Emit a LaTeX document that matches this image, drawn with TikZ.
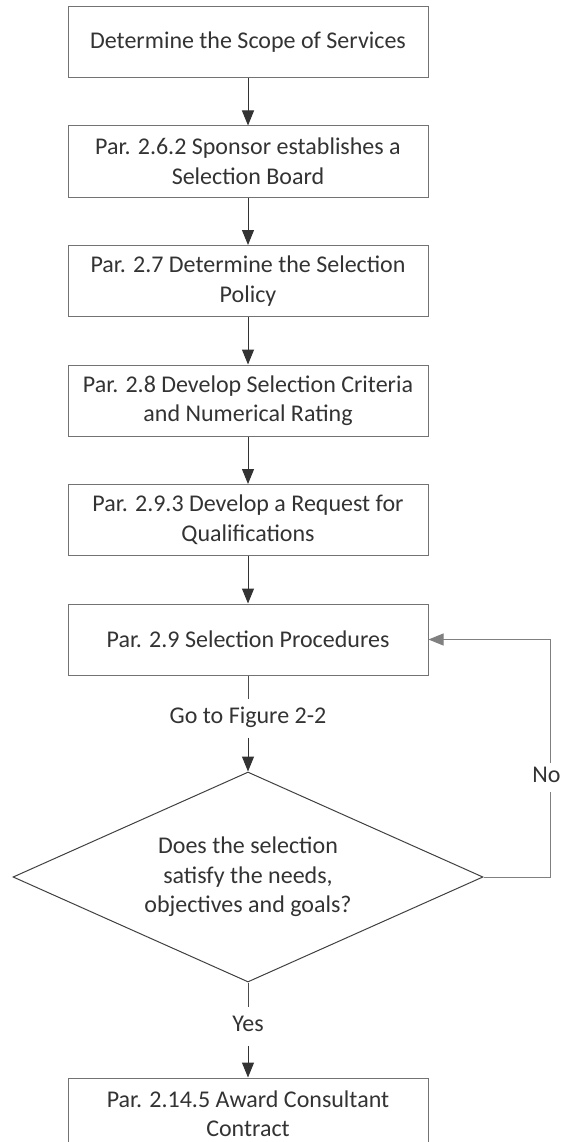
\documentclass[tikz,border=0pt]{standalone}
\usepackage{fontspec}
\setmainfont{Carlito}
\usetikzlibrary{positioning}
\usetikzlibrary{shapes.geometric}
\usetikzlibrary{arrows.meta}
\tikzset{
    node distance=47.5pt,
    every node/.append style={
        font=\fontsize{24}{29.5}\selectfont,
        text=black!80
    },
    stepbox/.style={
        draw=black!55,
        line width=1pt,
        minimum width=360pt,
        minimum height=71pt,
        align=center,
        inner sep=0pt
    },
    decision/.style={
        diamond,
        draw=black!75,
        line width=1pt,
        minimum width=470pt,
        minimum height=210pt,
        aspect=2.24,
        align=center,
        inner sep=0pt
    },
    flowlabel/.style={
        inner xsep=4pt,
        inner ysep=9pt,
        text height=16pt,
        text depth=5pt
    },
    flow/.style={
        draw=black!80,
        line width=1pt,
        -{Triangle[width=12pt,length=15pt]}
    },
    plain/.style={
        draw=black!70,
        line width=1pt
    }
}

\begin{document}
\begin{tikzpicture}
    \useasboundingbox (0,0) rectangle (560pt,-1142pt);

    \node[stepbox] (scope) at (248pt,-42pt) {Determine the Scope of Services};
    \node[stepbox, below = of scope] (board) {Par. 2.6.2 Sponsor establishes a\\Selection Board};
    \node[stepbox, below = of board] (policy) {Par. 2.7 Determine the Selection\\Policy};
    \node[stepbox, below = of policy] (criteria) {Par. 2.8 Develop Selection Criteria\\and Numerical Rating};
    \node[stepbox, below = of criteria] (request) {Par. 2.9.3 Develop a Request for\\Qualifications};
    \node[stepbox, below = of request] (procedures) {Par. 2.9 Selection Procedures};
    \node[flowlabel, below = 23pt of procedures] (goto) {Go to Figure 2-2};
    \node[decision, below = 96pt of procedures] (satisfy) {Does the selection\\satisfy the needs,\\objectives and goals?};
    \node[flowlabel, below = 24pt of satisfy] (yes) {Yes};
    \node[stepbox, below = 95pt of satisfy] (award) {Par. 2.14.5 Award Consultant\\Contract};

    \draw[flow] (scope) -- (board);
    \draw[flow] (board) -- (policy);
    \draw[flow] (policy) -- (criteria);
    \draw[flow] (criteria) -- (request);
    \draw[flow] (request) -- (procedures);
    \draw[plain] (procedures) -- (goto);
    \draw[flow] (goto) -- (satisfy);
    \draw[plain] (satisfy) -- (yes);
    \draw[flow] (yes) -- (award);
    \draw[flow, draw=black!50] (satisfy.east) -- ++(67pt,0)
        |- node[pos=0.21, xshift=-4pt, fill=white, inner sep=4pt, text height=16pt, text depth=5pt] (no) {No} (procedures.east);
\end{tikzpicture}
\end{document}
